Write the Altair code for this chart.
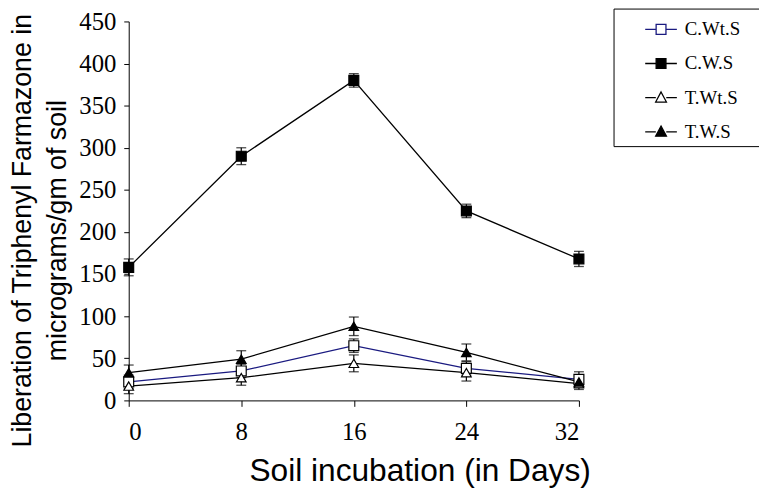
import altair as alt
import pandas as pd

# ---- data ----
days = [0, 8, 16, 24, 32]
series_names = ["C.Wt.S", "C.W.S", "T.Wt.S", "T.W.S"]
cwts = [22, 35, 65, 38, 25]
cwts_err = [8, 8, 8, 8, 9]
cws = [158, 290, 380, 225, 168]
cws_err = [10, 10, 8, 8, 9]
twts = [17, 27, 44, 33, 20]
twts_err = [9, 9, 10, 10, 7]
tws = [33, 49, 88, 57, 22]
tws_err = [9, 10, 11, 10, 7]

x_ticks = [0, 8, 16, 24, 32]
y_ticks = [0, 50, 100, 150, 200, 250, 300, 350, 400, 450]

values = {"C.Wt.S": (cwts, cwts_err), "C.W.S": (cws, cws_err),
          "T.Wt.S": (twts, twts_err), "T.W.S": (tws, tws_err)}

rows = []
for s in series_names:
    v, e = values[s]
    for d, val, err in zip(days, v, e):
        rows.append({"series": s, "day": d, "value": val,
                     "lo": val - err, "hi": val + err})
df = pd.DataFrame(rows)

# styles
line_color = {"C.Wt.S": "#1a1a80", "C.W.S": "black", "T.Wt.S": "black", "T.W.S": "black"}
shape = {"C.Wt.S": "square", "C.W.S": "square", "T.Wt.S": "triangle-up", "T.W.S": "triangle-up"}
fillc = {"C.Wt.S": "white", "C.W.S": "black", "T.Wt.S": "white", "T.W.S": "black"}
msize = {"C.Wt.S": 100, "C.W.S": 100, "T.Wt.S": 95, "T.W.S": 95}

sq = "M-1,0H-0.31M0.31,0H1M-0.31,-0.31H0.31V0.31H-0.31Z"
tri = "M-1,0H-0.33M0.33,0H1M0,-0.36L0.34,0.28H-0.34Z"
legend_paths = [sq, sq, tri, tri]

xs = alt.Scale(domain=[0, 32], nice=False)
ys = alt.Scale(domain=[0, 450], nice=False)

base = alt.Chart(df)

x_enc = alt.X("day:Q", scale=xs, axis=alt.Axis(
    values=x_ticks, format="d", title="Soil incubation (in Days)",
    tickSize=6, labelPadding=14, titleX=294, titleY=81,
    titleBaseline="alphabetic", titleFontSize=32))
y_enc = alt.Y("value:Q", scale=ys, axis=alt.Axis(
    values=y_ticks, format="d",
    title=["Liberation of Triphenyl Farmazone in", "micrograms/gm of soil"],
    tickSize=5, labelPadding=8, titleX=-93, titleY=211, titleAngle=270,
    titleBaseline="bottom", titleAlign="center", titleFontSize=27,
    titleLineHeight=35))

layers = []
for s in series_names:
    layers.append(base.transform_filter(alt.datum.series == s).mark_line(
        color=line_color[s], strokeWidth=1.3).encode(x=x_enc, y=y_enc))
for s in series_names:
    sub = base.transform_filter(alt.datum.series == s)
    layers.append(sub.mark_rule(color="black", strokeWidth=1.2).encode(
        x="day:Q", y="lo:Q", y2="hi:Q"))
    layers.append(sub.mark_tick(orient="horizontal", color="black", size=10,
                                thickness=1.3).encode(x="day:Q", y="lo:Q"))
    layers.append(sub.mark_tick(orient="horizontal", color="black", size=10,
                                thickness=1.3).encode(x="day:Q", y="hi:Q"))
for s in series_names:
    layers.append(base.transform_filter(alt.datum.series == s).mark_point(
        shape=shape[s], fill=fillc[s], stroke="black", strokeWidth=1.2,
        size=msize[s], opacity=1, filled=False).encode(x="day:Q", y="value:Q"))

# legend-only layer (no data drawn); a white spacer title widens the box
leg = alt.Legend(title="MM", titleOrient="right", titleColor="white",
                 titleFontSize=10, titlePadding=3,
                 orient="none", legendX=490, legendY=-13,
                 symbolSize=1024, symbolStrokeWidth=1.3, symbolOffset=27,
                 labelOffset=7, rowPadding=7.5, padding=4,
                 labelFont="Liberation Serif", labelFontSize=19,
                 labelColor="black", strokeColor="black", fillColor="white",
                 symbolOpacity=1)
legend_layer = base.transform_filter("false").mark_point(opacity=1).encode(
    x="day:Q", y="value:Q",
    shape=alt.Shape("series:N", scale=alt.Scale(domain=series_names, range=legend_paths), legend=leg),
    fill=alt.Fill("series:N", scale=alt.Scale(domain=series_names, range=["white", "black", "white", "black"]), legend=leg),
    stroke=alt.Stroke("series:N", scale=alt.Scale(domain=series_names, range=["#1a1a80", "black", "black", "black"]), legend=leg),
)
layers.append(legend_layer)

chart = alt.layer(*layers).properties(
    width=455, height=383,
    autosize=alt.AutoSizeParams(type="none"),
    padding={"left": 122, "top": 11, "right": 182, "bottom": 92},
).configure_view(stroke=None).configure_axis(
    grid=False, domainColor="black", tickColor="black", labelColor="black",
    labelFont="Liberation Serif", labelFontSize=25, titleFont="Liberation Sans",
    titleColor="black", titleFontWeight="normal", domainWidth=1, tickWidth=1,
)

chart.save("out.html", embed_options={"renderer": "svg", "actions": False})
